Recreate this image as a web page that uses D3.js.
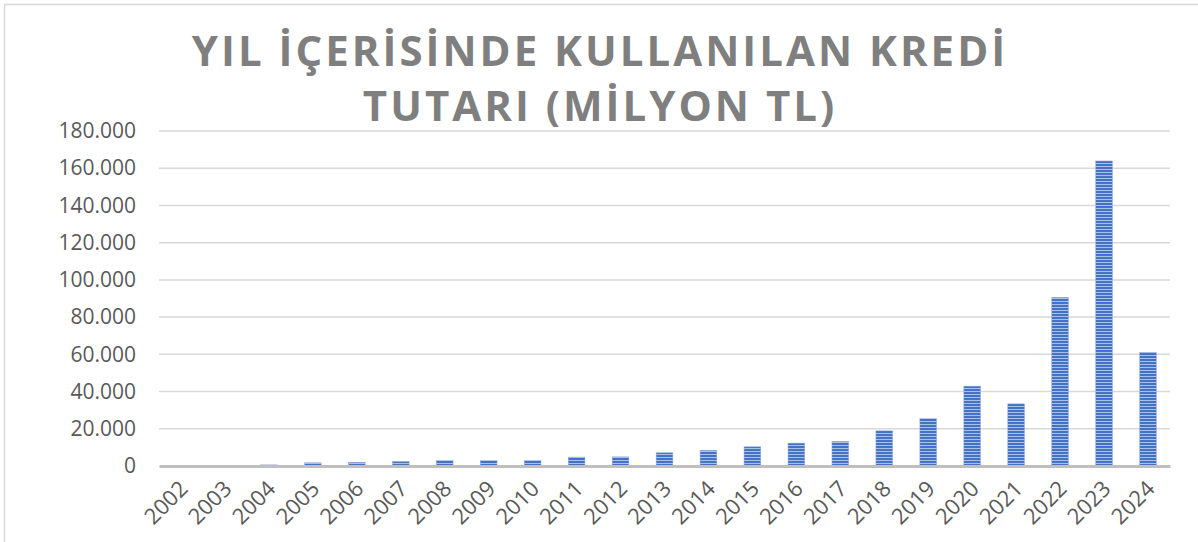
<!DOCTYPE html>
<html>
<head>
<meta charset="utf-8">
<script src="https://cdn.jsdelivr.net/npm/d3@7"></script>
<style>
  body { margin: 0; background: #fff; }
  svg { display: block; }
</style>
</head>
<body>
<div class="chart"></div>
<script>
// data (milyon TL)
var years = ["2002", "2003", "2004", "2005", "2006", "2007", "2008", "2009", "2010", "2011", "2012",
  "2013", "2014", "2015", "2016", "2017", "2018", "2019", "2020", "2021", "2022", "2023", "2024"];
var credit = [200, 400, 600, 1700, 2000, 2400, 2900, 2900, 2900, 4800, 4900,
  7100, 8400, 10300, 12300, 13200, 18900, 25400, 42900, 33400, 90600, 163900, 61100];
var yTicks = [0, 20000, 40000, 60000, 80000, 100000, 120000, 140000, 160000, 180000];
var titleLines = ["YIL İÇERİSİNDE KULLANILAN KREDİ", "TUTARI (MİLYON TL)"];

var svgWidth = 1198;
var svgHeight = 542;
var margin = { top: 131, right: 28, bottom: 76, left: 159 };
var width = svgWidth - margin.left - margin.right;
var height = svgHeight - margin.top - margin.bottom;

var trLocale = d3.formatLocale({ decimal: ",", thousands: ".", grouping: [3], currency: ["", " TL"] });
var fmt = trLocale.format(",.0f");

var svg = d3.select(".chart")
  .append("svg")
  .attr("width", svgWidth)
  .attr("height", svgHeight);

// striped fill like the excel pattern
var defs = svg.append("defs");
var pat = defs.append("pattern")
  .attr("id", "stripes")
  .attr("patternUnits", "userSpaceOnUse")
  .attr("width", 8)
  .attr("height", 3);
pat.append("rect").attr("width", 8).attr("height", 3).attr("fill", "#4472c4");
pat.append("rect").attr("y", 2).attr("width", 8).attr("height", 1).attr("fill", "#a9c0e8");

// outer chart border
svg.append("rect")
  .attr("x", 4.5).attr("y", 4.5)
  .attr("width", svgWidth + 20).attr("height", svgHeight + 20)
  .attr("fill", "none")
  .attr("stroke", "#d9d9d9")
  .attr("stroke-width", 1.5);

// title
var title = svg.append("text")
  .attr("text-anchor", "middle")
  .attr("fill", "#7f7f7f")
  .style("font-family", "'Open Sans', sans-serif")
  .style("font-weight", "bold")
  .style("font-size", "42px")
  .style("letter-spacing", "3px");
title.selectAll("tspan")
  .data(titleLines)
  .enter()
  .append("tspan")
  .attr("x", 600)
  .attr("y", (d, i) => 66 + i * 55)
  .text(d => d);

var chartGroup = svg.append("g")
  .attr("transform", `translate(${margin.left}, ${margin.top})`);

var xScale = d3.scaleBand()
  .domain(years)
  .range([0, width])
  .paddingInner(0.62)
  .paddingOuter(0.31);

var yScale = d3.scaleLinear()
  .domain([0, 180000])
  .range([height, 0]);

// gridlines
chartGroup.append("g")
  .selectAll("line")
  .data(yTicks.slice(1))
  .enter()
  .append("line")
  .attr("x1", 0)
  .attr("x2", width)
  .attr("y1", d => yScale(d))
  .attr("y2", d => yScale(d))
  .attr("stroke", "#d9d9d9")
  .attr("stroke-width", 1.5);

// bars
chartGroup.selectAll("rect.bar")
  .data(credit)
  .enter()
  .append("rect")
  .attr("class", "bar")
  .attr("x", (d, i) => xScale(years[i]))
  .attr("y", d => yScale(d))
  .attr("width", xScale.bandwidth())
  .attr("height", d => height - yScale(d))
  .attr("fill", "url(#stripes)")
  .attr("stroke", "#8faadc")
  .attr("stroke-width", 0.5);

// y axis
var leftAxis = d3.axisLeft(yScale)
  .tickValues(yTicks)
  .tickFormat(fmt)
  .tickSize(0)
  .tickPadding(23);
var yAxis = chartGroup.append("g").call(leftAxis);
yAxis.select(".domain").remove();
yAxis.selectAll("text")
  .attr("fill", "#595959")
  .style("font-family", "'Open Sans', sans-serif")
  .style("font-size", "21px");

// x axis
var bottomAxis = d3.axisBottom(xScale).tickSize(0);
var xAxis = chartGroup.append("g")
  .attr("transform", `translate(0, ${height})`)
  .call(bottomAxis);
xAxis.select(".domain")
  .attr("stroke", "#bfbfbf")
  .attr("stroke-width", 3);
xAxis.selectAll("text")
  .attr("fill", "#595959")
  .style("font-family", "'Open Sans', sans-serif")
  .style("font-size", "22px")
  .style("text-anchor", "end")
  .attr("dx", "0")
  .attr("dy", "0")
  .attr("transform", "translate(6, 22) rotate(-45)");
</script>
</body>
</html>
